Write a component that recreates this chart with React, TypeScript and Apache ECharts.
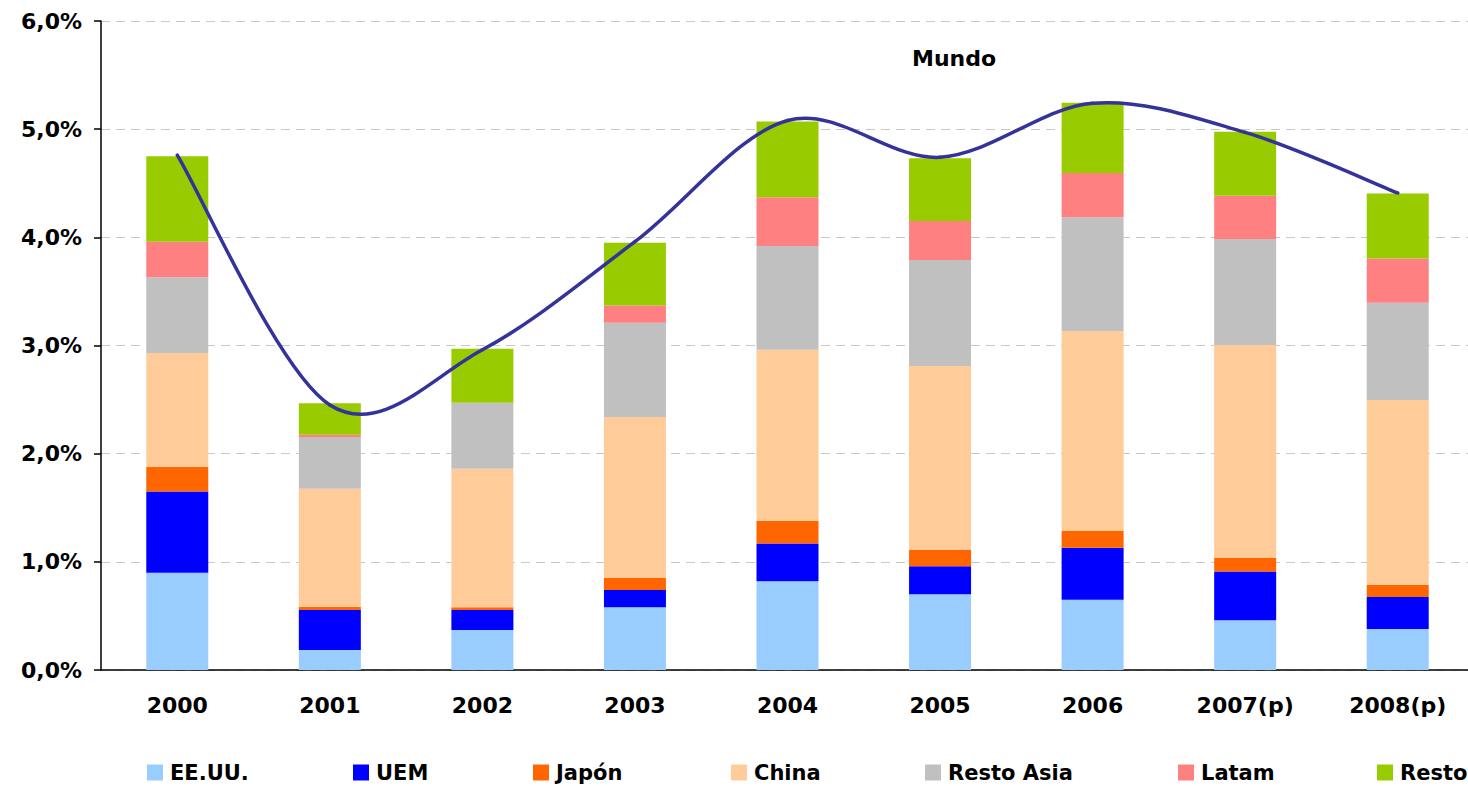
import React, { useEffect, useRef } from "react";
import * as echarts from "echarts";

// Contribución al crecimiento mundial por regiones (puntos porcentuales)
const years = ["2000", "2001", "2002", "2003", "2004", "2005", "2006", "2007(p)", "2008(p)"];

const eeuu = [0.9, 0.185, 0.37, 0.58, 0.82, 0.7, 0.65, 0.46, 0.38];
const uem = [0.75, 0.37, 0.185, 0.16, 0.35, 0.26, 0.48, 0.45, 0.295];
const japon = [0.23, 0.03, 0.025, 0.11, 0.21, 0.15, 0.155, 0.125, 0.11];
const china = [1.05, 1.09, 1.28, 1.49, 1.58, 1.7, 1.85, 1.97, 1.71];
const restoAsia = [0.7, 0.48, 0.61, 0.87, 0.96, 0.98, 1.05, 0.98, 0.9];
const latam = [0.33, 0.02, 0.0, 0.16, 0.45, 0.36, 0.41, 0.4, 0.41];
const resto = [0.79, 0.29, 0.5, 0.58, 0.7, 0.58, 0.65, 0.59, 0.6];

// Crecimiento mundial
const mundo = [4.76, 2.45, 2.96, 3.96, 5.08, 4.74, 5.24, 4.97, 4.41];

const yTicks = [0, 1, 2, 3, 4, 5, 6];

const FONT = "'DejaVu Sans', Verdana, sans-serif";

const regions = [
  { name: "EE.UU.", data: eeuu, color: "#99CCFF", legendLeft: 147 },
  { name: "UEM", data: uem, color: "#0000FF", legendLeft: 353 },
  { name: "Japón", data: japon, color: "#FF6600", legendLeft: 533 },
  { name: "China", data: china, color: "#FFCC99", legendLeft: 731 },
  { name: "Resto Asia", data: restoAsia, color: "#C0C0C0", legendLeft: 925 },
  { name: "Latam", data: latam, color: "#FF8080", legendLeft: 1178 },
  { name: "Resto", data: resto, color: "#99CC00", legendLeft: 1377 },
];

// One cubic segment of a Catmull-Rom style smoothed line between point i and i+1
function renderMundoSegment(params: any, api: any) {
  const i = params.dataIndex;
  const n = mundo.length;
  if (i >= n - 1) return null;
  const pt = (k: number) => {
    const j = Math.max(0, Math.min(n - 1, k));
    return api.coord([j, mundo[j]]);
  };
  const p0 = pt(i - 1);
  const p1 = pt(i);
  const p2 = pt(i + 1);
  const p3 = pt(i + 2);
  const t = 1 / 6;
  return {
    type: "bezierCurve",
    shape: {
      x1: p1[0],
      y1: p1[1],
      cpx1: p1[0] + (p2[0] - p0[0]) * t,
      cpy1: p1[1] + (p2[1] - p0[1]) * t,
      cpx2: p2[0] - (p3[0] - p1[0]) * t,
      cpy2: p2[1] - (p3[1] - p1[1]) * t,
      x2: p2[0],
      y2: p2[1],
    },
    style: {
      stroke: "#333399",
      lineWidth: 3.5,
      fill: null,
      lineCap: "round",
    },
  };
}

export default function App() {
  const ref = useRef<HTMLDivElement>(null);

  useEffect(() => {
    document.body.style.margin = "0";
    if (!ref.current) return;
    const chart = echarts.init(ref.current, undefined, { renderer: "svg" });

    const barSeries = regions.map((r) => ({
      name: r.name,
      type: "bar",
      stack: "total",
      barWidth: 62,
      data: r.data,
      itemStyle: { color: r.color },
      emphasis: { disabled: true },
    }));

    const legends = regions.map((r) => ({
      data: [r.name],
      left: r.legendLeft,
      top: 762,
      icon: "rect",
      itemWidth: 16,
      itemHeight: 16,
      itemGap: 0,
      padding: 0,
      selectedMode: false,
      textStyle: {
        fontFamily: FONT,
        fontWeight: "bold",
        fontSize: 21,
        color: "#000",
        padding: [0, 0, 0, 2],
      },
    }));

    chart.setOption({
      animation: false,
      backgroundColor: "#fff",
      textStyle: { fontFamily: FONT },
      grid: {
        left: 101,
        top: 21,
        width: 1373,
        height: 649,
        containLabel: false,
        outerBoundsMode: "none",
      },
      legend: legends,
      xAxis: {
        type: "category",
        data: years,
        axisLine: { lineStyle: { color: "#000", width: 1.5 } },
        axisTick: { show: false },
        axisLabel: {
          margin: 24,
          fontFamily: FONT,
          fontWeight: "bold",
          fontSize: 22,
          color: "#000",
        },
      },
      yAxis: {
        type: "value",
        min: yTicks[0],
        max: yTicks[yTicks.length - 1],
        interval: 1,
        axisLine: { show: true, lineStyle: { color: "#000", width: 1.5 } },
        axisTick: { show: true, length: 7, lineStyle: { color: "#000", width: 1.5 } },
        axisLabel: {
          margin: 19,
          fontFamily: FONT,
          fontWeight: "bold",
          fontSize: 22,
          color: "#000",
          formatter: (v: number) => v.toFixed(1).replace(".", ",") + "%",
        },
        splitLine: {
          show: true,
          lineStyle: { color: "#C8C8C8", type: [9, 6], width: 1 },
        },
      },
      graphic: [
        {
          type: "text",
          left: 912,
          top: 47,
          style: {
            text: "Mundo",
            fontFamily: FONT,
            fontWeight: "bold",
            fontSize: 22,
            fill: "#000",
          },
        },
      ],
      series: [
        ...barSeries,
        {
          name: "Mundo",
          type: "custom",
          data: mundo.map((v, i) => [i, v]),
          encode: { x: 0, y: 1 },
          renderItem: renderMundoSegment,
          z: 5,
          silent: true,
        },
      ],
    });

    return () => chart.dispose();
  }, []);

  return <div ref={ref} style={{ width: 1468, height: 786 }} />;
}
